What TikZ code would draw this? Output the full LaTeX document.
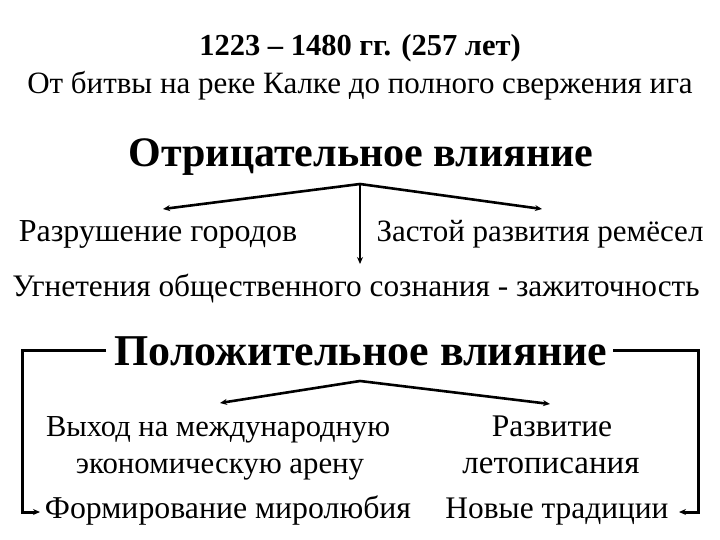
\documentclass[tikz,border=0pt]{standalone}
\usepackage{fontspec}
\setmainfont{Liberation Serif}
\usetikzlibrary{arrows.meta,calc}
\tikzset{
  txt/.style={anchor=base,inner sep=0pt,font=\fontsize{#1bp}{#1bp}\selectfont},
  txt/.default=31,
  head/.style={anchor=base,inner sep=0pt,font=\fontsize{#1bp}{#1bp}\selectfont\bfseries},
  head/.default=42,
  arr/.style={line width=2.6bp,-{Stealth[length=7bp,width=6bp]}},
  brk/.style={line width=3bp,-{Stealth[length=7bp,width=6bp]}},
}
\begin{document}
\begin{tikzpicture}[x=1bp,y=-1bp]
\useasboundingbox[fill=white] (0,0) rectangle (720,540);
\node[head=30.5] (years) at (360,56) {1223 -- 1480 гг. (257 лет)};
\node[txt=31] (sub) at (360,94) {От битвы на реке Калке до полного свержения ига};
\node[head=42] (neg) at (361,167) {Отрицательное влияние};
\coordinate (napex) at (360,184);
\coordinate (nl) at (163,209);
\coordinate (nr) at (542,209);
\coordinate (nd) at (360,264);
\node[txt=32] (razr) at (158,242) {Разрушение городов};
\node[txt=31] (zast) at (540,242) {Застой развития ремёсел};
\node[txt=31.3] (ugn) at (356,296) {Угнетения общественного сознания - зажиточность};
\draw[arr] (napex) -- (nl);
\draw[arr] (napex) -- (nr);
\draw[arr] (napex) -- (nd);
\node[head=44] (pos) at (361,365) {Положительное влияние};
\coordinate (papex) at (360,381);
\coordinate (pl) at (220,403);
\coordinate (pr) at (550,404);
\draw[arr] (papex) -- (pl);
\draw[arr] (papex) -- (pr);
\node[txt=30.5] (vyh1) at (218,436) {Выход на международную};
\node[txt=30.8] (vyh2) at (220,473) {экономическую арену};
\node[txt=31.5] (razv1) at (552,436) {Развитие};
\node[txt=33] (razv2) at (551,473) {летописания};
\node[txt=31.8] (form) at (228,518) {Формирование миролюбия};
\node[txt=31.4] (nov) at (557,518) {Новые традиции};
\coordinate (bl) at (22,512);
\coordinate (br) at (698,512);
\draw[brk] (106,350) -| (bl) -- (40,512);
\draw[brk] (613,350) -| (br) -- (679,512);
\end{tikzpicture}
\end{document}
